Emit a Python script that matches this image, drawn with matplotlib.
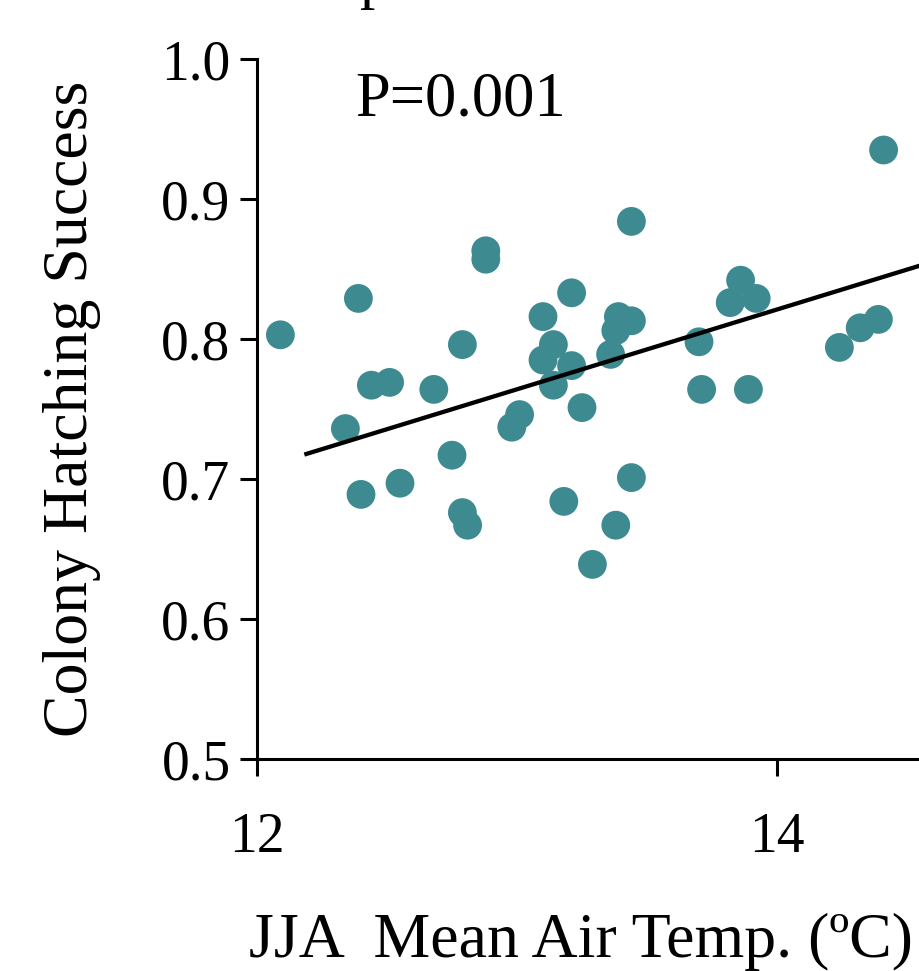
import numpy as np
import matplotlib
matplotlib.use("Agg")
import matplotlib.pyplot as plt

plt.rcParams['font.family'] = ['Liberation Serif', 'DejaVu Serif']

# JJA mean air temperature (C) and colony hatching success
temp = [12.09, 12.39, 12.34, 12.40, 12.44, 12.51, 12.55, 12.68, 12.79, 12.75,
        12.79, 12.81, 12.88, 12.88, 12.98, 13.01, 13.10, 13.10, 13.14, 13.14,
        13.18, 13.21, 13.21, 13.25, 13.29, 13.36, 13.38, 13.39, 13.44, 13.38,
        13.44, 13.44, 13.70, 13.71, 13.82, 13.86, 13.92, 13.89, 14.24, 14.32,
        14.39, 14.41]
hatch = [0.803, 0.829, 0.736, 0.689, 0.767, 0.769, 0.697, 0.764, 0.796, 0.717,
         0.676, 0.667, 0.863, 0.857, 0.737, 0.746, 0.816, 0.785, 0.796, 0.767,
         0.684, 0.833, 0.781, 0.751, 0.639, 0.789, 0.806, 0.816, 0.813, 0.667,
         0.701, 0.884, 0.798, 0.764, 0.826, 0.842, 0.829, 0.764, 0.794, 0.808,
         0.814, 0.935]

# regression line as drawn
fit_slope = 0.0570
fit_intercept = 0.7179 - 0.0570 * 12.19
fit_x = [12.19, 15.0]

yticks = [0.5, 0.6, 0.7, 0.8, 0.9, 1.0]
xticks = [12, 14]

fig = plt.figure(figsize=(9.2, 9.71), dpi=100)
ax = fig.add_axes([257 / 920, 212 / 971, 3 * 260 / 920, 700 / 971])

ax.scatter(temp, hatch, s=430, color='#3d8b91', edgecolors='none', zorder=2)
fx = np.array(fit_x)
ax.plot(fx, fit_intercept + fit_slope * fx, color='black', lw=3.1, zorder=3)

ax.set_xticks(xticks)
ax.set_xticklabels([str(t) for t in xticks])
ax.set_yticks(yticks)
ax.set_yticklabels(['%.1f' % t for t in yticks])
ax.set_xlim(12, 15)
ax.set_ylim(0.5, 1.0)

for s in ['top', 'right']:
    ax.spines[s].set_visible(False)
for s in ['left', 'bottom']:
    ax.spines[s].set_linewidth(2.2)

ax.tick_params(axis='both', width=2.2, length=12, labelsize=40)
ax.tick_params(axis='y', pad=7)
ax.tick_params(axis='x', pad=26)

ax.set_ylabel('Colony Hatching Success', fontsize=46)
ax.yaxis.set_label_coords(-0.2, 0.5)
ax.set_xlabel('JJA  Mean Air Temp. (\u00baC)', fontsize=46)
ax.xaxis.set_label_coords(-0.01, -0.22)
ax.xaxis.label.set_horizontalalignment('left')

ax.text(0.126, 0.94, 'P=0.001', transform=ax.transAxes, fontsize=45,
        va='center', ha='left')

# top of a cut-off panel title
fig.text(360 / 920, 1 + 3 / 971, 'p', fontsize=44, va='baseline', ha='left')

fig.savefig('out.png', dpi=100)
